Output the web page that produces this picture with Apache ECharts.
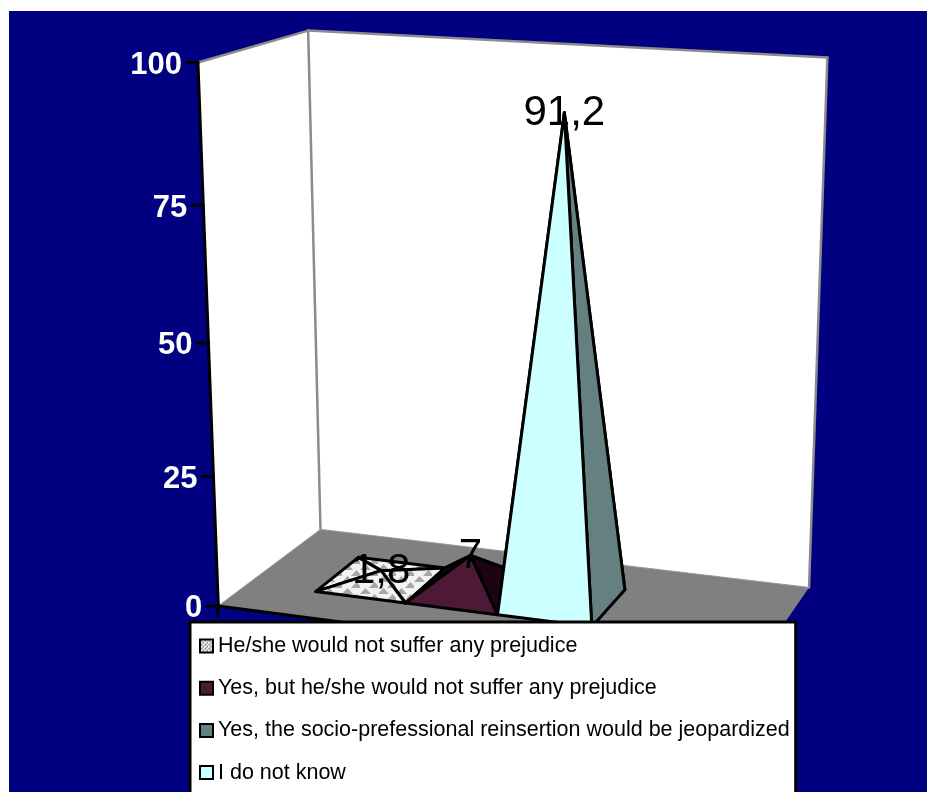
<!DOCTYPE html>
<html>
<head>
<meta charset="utf-8">
<title>Prejudice survey</title>
<script src="https://cdn.jsdelivr.net/npm/echarts@6/dist/echarts.min.js"></script>
<style>
  html, body { margin: 0; padding: 0; background: #fff; }
  #chart { width: 927px; height: 792px; }
</style>
</head>
<body>
<div id="chart"></div>
<script>
// Survey answers, one pyramid per answer; the last answer has no recorded value.
const categories = [
  'He/she would not suffer any prejudice',
  'Yes, but he/she would not suffer any prejudice',
  'Yes, the socio-prefessional reinsertion would be jeopardized',
  'I do not know'
];
const values = [1.8, 7, 91.2, null];
const tickValues = [0, 25, 50, 75, 100];

// Swatch colour and the shading of each pyramid's faces.
const swatchColors = [null, '#4c1a36', '#648080', '#ccffff'];
const frontColors = [null, '#4c1a36', '#ccffff', '#ccffff'];
const sideColors = [null, '#1c0414', '#648080', '#648080'];

const NAVY = '#000080';
const FLOOR = '#808080';
const WALL_EDGE = '#8c8c8c';
const SLOT_MIN = -0.76, SLOT_MAX = 4.79;   // width of the floor, in pyramid slots
const DEPTH_NEAR = 0.28, DEPTH_FAR = 0.72; // pyramids' footprint along the floor depth

// Camera calibration: box coordinates (across, depth, height) against screen pixels.
const calibration = [
  [0, 0, 0, 218, 606], [0, 0, 1, 198, 63],
  [0, 1, 0, 321, 528], [0, 1, 1, 309, 30],
  [1, 1, 0, 808, 590], [1, 1, 1, 827, 57],
  [1, 0, 0, 750, 673],
  [0, 0, 0.25, 213, 478], [0, 0, 0.5, 208, 342], [0, 0, 0.75, 203, 206]
];

// Least-squares fit of a 3x4 projective camera, last term fixed at 1.
function fitCamera(points) {
  const n = 11, scale = 1000;
  const M = Array.from({ length: n }, () => new Array(n + 1).fill(0));
  const addRow = (row, rhs) => {
    for (let i = 0; i < n; i++) {
      for (let j = 0; j < n; j++) M[i][j] += row[i] * row[j];
      M[i][n] += row[i] * rhs;
    }
  };
  points.forEach(([a, b, c, sx, sy]) => {
    const x = sx / scale, y = sy / scale;
    addRow([a, b, c, 1, 0, 0, 0, 0, -x * a, -x * b, -x * c], x);
    addRow([0, 0, 0, 0, a, b, c, 1, -y * a, -y * b, -y * c], y);
  });
  for (let i = 0; i < n; i++) {
    let p = i;
    for (let r = i + 1; r < n; r++) if (Math.abs(M[r][i]) > Math.abs(M[p][i])) p = r;
    [M[i], M[p]] = [M[p], M[i]];
    for (let r = 0; r < n; r++) {
      if (r === i) continue;
      const f = M[r][i] / M[i][i];
      for (let c = i; c <= n; c++) M[r][c] -= f * M[i][c];
    }
  }
  const s = M.map((row, i) => row[n] / row[i]);
  return (a, b, c) => {
    const w = s[8] * a + s[9] * b + s[10] * c + 1;
    return [
      scale * (s[0] * a + s[1] * b + s[2] * c + s[3]) / w,
      scale * (s[4] * a + s[5] * b + s[6] * c + s[7]) / w
    ];
  };
}
const project = fitCamera(calibration);

// Triangle weave on the first answer's pyramid, in a coarse and a fine tile.
function weavePattern(w, h, tri, shade) {
  const c = document.createElement('canvas');
  c.width = w; c.height = h;
  const g = c.getContext('2d');
  g.fillStyle = '#f2f2f2';
  g.fillRect(0, 0, w, h);
  g.fillStyle = shade;
  [[0, h / 2], [w / 2, h]].forEach(([x, y]) => {
    g.beginPath();
    g.moveTo(x, y); g.lineTo(x + tri, y); g.lineTo(x + tri / 2, y - h / 2);
    g.closePath(); g.fill();
  });
  return c;
}
const weave = { image: weavePattern(18, 12, 11, '#a6a6a6'), repeat: 'repeat' };
swatchColors[0] = { image: weavePattern(4, 4, 3, '#777'), repeat: 'repeat' };
frontColors[0] = weave;
sideColors[0] = weave;

// Grid pixels back to box coordinates.
function toBox(params, pixel) {
  const r = params.coordSys;
  return [(pixel[0] - r.x) / r.width, 1 - (pixel[1] - r.y) / r.height];
}
const poly = (pts, fill, stroke, lw) => ({
  type: 'polygon',
  shape: { points: pts },
  style: { fill: fill, stroke: stroke || null, lineWidth: lw || 0, lineJoin: 'round' }
});
const seg = (a, b, color, lw) => ({
  type: 'line',
  shape: { x1: a[0], y1: a[1], x2: b[0], y2: b[1] },
  style: { stroke: color, lineWidth: lw, lineCap: 'round' }
});

function renderFrame(params, api) {
  const P = project;
  const bl = P(0, 0, 0), tl = P(0, 0, 1), bd = P(0, 1, 0), td = P(0, 1, 1);
  const be = P(1, 1, 0), te = P(1, 1, 1), fr = P(1, 0, 0);
  const children = [
    poly([bl, bd, be, fr], FLOOR),
    poly([bl, tl, td, bd], '#fff'),
    poly([bd, td, te, be], '#fff'),
    seg(tl, td, WALL_EDGE, 2.5), seg(td, te, WALL_EDGE, 2.5),
    seg(td, bd, WALL_EDGE, 2.5), seg(te, be, WALL_EDGE, 2.5),
    seg(bd, be, '#9a9a9a', 1), seg(bl, bd, '#9a9a9a', 1),
    seg(bl, tl, '#000', 3), seg(bl, fr, '#000', 3)
  ];
  // Value ticks and labels follow the slanted front edge of the left wall.
  tickValues.forEach((t) => {
    const v = toBox(params, api.coord([SLOT_MIN, t]))[1];
    const p = P(0, 0, v);
    children.push(seg([p[0] - 11, p[1]], p, '#000', 3));
    children.push({
      type: 'text',
      x: p[0] - 16, y: p[1] + 3,
      style: {
        text: String(t), fill: '#fff', align: 'right', verticalAlign: 'middle',
        font: 'bold 31px "Liberation Sans", Arial, sans-serif'
      }
    });
  });
  children.push(seg(bl, [bl[0] - 1, bl[1] + 10], '#000', 3));
  return { type: 'group', children };
}

function apexOf(params, api, slot) {
  const b = toBox(params, api.coord([slot + 0.5, api.value(1)]));
  return project(b[0], 0.5, b[1]);
}

function renderPyramid(params, api) {
  const slot = api.value(0), value = api.value(1);
  if (isNaN(value)) return null;
  const uL = toBox(params, api.coord([slot, 0]))[0];
  const uR = toBox(params, api.coord([slot + 1, 0]))[0];
  const fl = project(uL, DEPTH_NEAR, 0), fr = project(uR, DEPTH_NEAR, 0);
  const bl = project(uL, DEPTH_FAR, 0), br = project(uR, DEPTH_FAR, 0);
  const top = apexOf(params, api, slot);
  const front = frontColors[slot], side = sideColors[slot];
  const edge = ['#000', 3];
  return {
    type: 'group',
    children: [
      poly([bl, br, top], side, ...edge),
      poly([fl, bl, top], side, ...edge),
      poly([fr, br, top], side, ...edge),
      poly([fl, fr, top], front, ...edge)
    ]
  };
}

function renderValueLabel(params, api) {
  const slot = api.value(0), value = api.value(1);
  if (isNaN(value)) return null;
  const top = apexOf(params, api, slot);
  return {
    type: 'text',
    x: top[0], y: top[1] + 1,
    style: {
      text: String(value).replace('.', ','), fill: '#000',
      align: 'center', verticalAlign: 'middle',
      font: '42px "Liberation Sans", Arial, sans-serif'
    }
  };
}

const pyramidSeries = categories.map((name, i) => ({
  type: 'custom',
  name: name,
  coordinateSystem: 'cartesian2d',
  renderItem: renderPyramid,
  itemStyle: { color: swatchColors[i] },
  data: [[i, values[i]]],
  clip: false, silent: true, z: 3,
  encode: { x: 0, y: 1 }
}));

const chart = echarts.init(document.getElementById('chart'), null, { renderer: 'canvas' });
chart.setOption({
  animation: false,
  backgroundColor: '#fff',
  graphic: [{
    type: 'rect', left: 9, top: 11, z: -10, silent: true,
    shape: { width: 918, height: 781 }, style: { fill: NAVY }
  }],
  grid: { left: 200, right: 200, top: 60, bottom: 180 },
  xAxis: { type: 'value', min: SLOT_MIN, max: SLOT_MAX, show: false },
  yAxis: { type: 'value', min: 0, max: 100, show: false },
  legend: {
    orient: 'vertical', left: 190, top: 622, height: 260,
    data: categories, icon: 'rect',
    itemWidth: 13, itemHeight: 13, itemGap: 20.2,
    padding: [13, 6, 14, 9],
    backgroundColor: '#fff', borderColor: '#000', borderWidth: 3, borderRadius: 0,
    itemStyle: { borderColor: '#000', borderWidth: 2 },
    textStyle: { color: '#000', fontSize: 21.5, fontFamily: '"Liberation Sans", Arial, sans-serif' },
    selectedMode: false
  },
  series: [
    {
      type: 'custom', name: 'Frame', coordinateSystem: 'cartesian2d',
      renderItem: renderFrame, data: [[0, 0]], clip: false, silent: true, z: 1
    },
    ...pyramidSeries,
    {
      type: 'custom', name: 'Values', coordinateSystem: 'cartesian2d',
      renderItem: renderValueLabel, clip: false, silent: true, z: 4,
      data: values.map((v, i) => [i, v])
    }
  ]
});
</script>
</body>
</html>
